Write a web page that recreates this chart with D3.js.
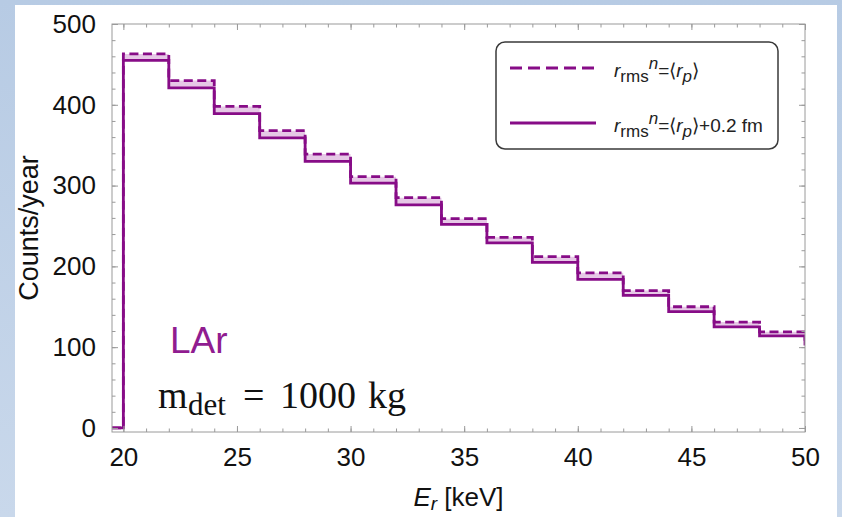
<!DOCTYPE html>
<html>
<head>
<meta charset="utf-8">
<script src="https://cdnjs.cloudflare.com/ajax/libs/d3/7.8.5/d3.min.js"></script>
<style>
  html, body { margin: 0; padding: 0; background: #ffffff; }
  svg { display: block; }
</style>
</head>
<body>
<svg id="chart" width="842" height="517"></svg>
<script>

    // Histogram bins (keV) and counts per year
    var binEdges = [20, 22, 24, 26, 28, 30, 32, 34, 36, 38, 40, 42, 44, 46, 48, 50];
    var countsRp = [463, 430, 398, 368, 339, 311, 285, 259, 236, 212, 192, 170, 150, 131, 119, 108];
    var countsRpPlus = [455, 421, 389, 359, 330, 303, 276, 252, 229, 205, 184, 164, 144, 125, 114, 102];

    var xMajorTicks = [20, 25, 30, 35, 40, 45, 50];
    var yMajorTicks = [0, 100, 200, 300, 400, 500];
    var xMinorTicks = d3.range(20, 51, 1);
    var yMinorTicks = d3.range(0, 501, 20);

    var lineColor = "#870c87";
    var fillColor = "#e6c8e6";
    var frameColor = "#9a9a9a";

    var svg = d3.select("#chart");

    // Blue slide background and white panel
    var defs = svg.append("defs");
    var grad = defs.append("linearGradient")
                   .attr("id", "bg_grad")
                   .attr("x1", "0").attr("y1", "0")
                   .attr("x2", "0").attr("y2", "1");
    grad.append("stop").attr("offset", "0").attr("stop-color", "#b7cbe4");
    grad.append("stop").attr("offset", "1").attr("stop-color", "#c9d8eb");

    svg.append("rect").attr("width", 842).attr("height", 517).attr("fill", "url(#bg_grad)");
    svg.append("rect").attr("x", 15).attr("y", 5).attr("width", 822).attr("height", 520).attr("fill", "#ffffff");

    var plot = { left: 112, right: 805, top: 24, bottom: 432 };

    var x = d3.scaleLinear().domain([19.5, 50]).range([plot.left, plot.right]);
    var y = d3.scaleLinear().domain([-5, 500]).range([plot.bottom, plot.top]);

    defs.append("clipPath").attr("id", "plot_clip")
        .append("rect")
        .attr("x", plot.left).attr("y", plot.top)
        .attr("width", plot.right - plot.left).attr("height", plot.bottom - plot.top);

    // Step points: flat at zero before the threshold, then one point per bin
    function stepPoints(counts){
        var pts = [[19.5, 0]];
        for ( var i = 0; i < counts.length; i++ )
            pts.push([binEdges[0] + i * 2, counts[i]]);
        return pts;
    }

    var band = [];
    for ( var i = 0; i < countsRp.length; i++ )
        band.push({ e: binEdges[0] + i * 2, hi: countsRp[i], lo: countsRpPlus[i] });

    var g = svg.append("g").attr("clip-path", "url(#plot_clip)");

    g.append("path")
     .datum(band)
     .attr("fill", fillColor)
     .attr("d", d3.area()
                  .curve(d3.curveStepAfter)
                  .x(function(d){ return x(d.e); })
                  .y0(function(d){ return y(d.lo); })
                  .y1(function(d){ return y(d.hi); }));

    var stepLine = d3.line()
                     .curve(d3.curveStepAfter)
                     .x(function(d){ return x(d[0]); })
                     .y(function(d){ return y(d[1]); });

    g.append("path")
     .datum(stepPoints(countsRp))
     .attr("fill", "none")
     .attr("stroke", lineColor)
     .attr("stroke-width", 2.8)
     .attr("stroke-dasharray", "9,4.5")
     .attr("d", stepLine);

    g.append("path")
     .datum(stepPoints(countsRpPlus))
     .attr("fill", "none")
     .attr("stroke", lineColor)
     .attr("stroke-width", 2.8)
     .attr("d", stepLine);

    // Frame with inward ticks on all four sides
    svg.append("rect")
       .attr("x", plot.left).attr("y", plot.top)
       .attr("width", plot.right - plot.left).attr("height", plot.bottom - plot.top)
       .attr("fill", "none").attr("stroke", frameColor).attr("stroke-width", 1);

    function addTicks(axis, transform){
        var a = svg.append("g").attr("transform", transform).call(axis);
        a.select(".domain").remove();
        a.selectAll(".tick line").attr("stroke", frameColor);
        return a;
    }

    addTicks(d3.axisBottom(x).tickValues(xMinorTicks).tickSize(-3.5).tickFormat(""), "translate(0," + plot.bottom + ")");
    addTicks(d3.axisTop(x).tickValues(xMinorTicks).tickSize(-3.5).tickFormat(""), "translate(0," + plot.top + ")");
    addTicks(d3.axisTop(x).tickValues(xMajorTicks).tickSize(-6).tickFormat(""), "translate(0," + plot.top + ")");
    addTicks(d3.axisLeft(y).tickValues(yMinorTicks).tickSize(-3.5).tickFormat(""), "translate(" + plot.left + ",0)");
    addTicks(d3.axisRight(y).tickValues(yMinorTicks).tickSize(-3.5).tickFormat(""), "translate(" + plot.right + ",0)");
    addTicks(d3.axisRight(y).tickValues(yMajorTicks).tickSize(-6).tickFormat(""), "translate(" + plot.right + ",0)");

    var xAxis = addTicks(d3.axisBottom(x).tickValues(xMajorTicks).tickSize(-6).tickPadding(16), "translate(0," + plot.bottom + ")");
    xAxis.selectAll("text")
         .attr("fill", "#111").attr("dy", "0.71em")
         .style("font-family", "'Liberation Sans', Arial, sans-serif").style("font-size", "26px");

    var yAxis = addTicks(d3.axisLeft(y).tickValues(yMajorTicks).tickSize(-6).tickPadding(16), "translate(" + plot.left + ",0)");
    yAxis.selectAll("text")
         .attr("fill", "#111")
         .style("font-family", "'Liberation Sans', Arial, sans-serif").style("font-size", "26px");

    // Axis titles
    svg.append("text")
       .attr("transform", "translate(38," + ((plot.top + plot.bottom) / 2) + ") rotate(-90)")
       .attr("text-anchor", "middle")
       .attr("fill", "#111")
       .style("font-family", "'Liberation Sans', Arial, sans-serif").style("font-size", "27px")
       .text("Counts/year");

    var xTitle = svg.append("text")
                    .attr("x", (plot.left + plot.right) / 2).attr("y", 506)
                    .attr("text-anchor", "middle")
                    .attr("fill", "#111")
                    .style("font-family", "'Liberation Sans', Arial, sans-serif").style("font-size", "26px");
    xTitle.append("tspan").style("font-style", "italic").text("E");
    xTitle.append("tspan").style("font-style", "italic").style("font-size", "19px").attr("dy", 4).text("r");
    xTitle.append("tspan").attr("dy", -4).text(" [keV]");

    // Annotations
    svg.append("text")
       .attr("x", 170).attr("y", 353)
       .attr("fill", "#901c90")
       .style("font-family", "'Liberation Sans', Arial, sans-serif").style("font-size", "37px")
       .text("LAr");

    var mdet = svg.append("text")
                  .attr("y", 408)
                  .attr("fill", "#111")
                  .style("font-family", "'Liberation Serif', 'Times New Roman', serif").style("font-size", "38px");
    mdet.append("tspan").attr("x", 158).text("m");
    mdet.append("tspan").attr("x", 188).attr("dy", 7).style("font-size", "31px").text("det");
    mdet.append("tspan").attr("x", 243).attr("dy", -7).text("=");
    mdet.append("tspan").attr("x", 280).text("1000");
    mdet.append("tspan").attr("x", 368).text("kg");

    // Legend
    var legend = svg.append("g");
    legend.append("rect")
          .attr("x", 496).attr("y", 42).attr("width", 282).attr("height", 107)
          .attr("rx", 9).attr("ry", 9)
          .attr("fill", "#ffffff").attr("stroke", "#3a3a3a").attr("stroke-width", 1.5);

    var legendItems = [
        { y: 68, dash: "12,6", tail: "" },
        { y: 123, dash: null, tail: "+0.2 fm" }
    ];

    legendItems.forEach(function(item){
        legend.append("line")
              .attr("x1", 510).attr("x2", 596).attr("y1", item.y).attr("y2", item.y)
              .attr("stroke", lineColor).attr("stroke-width", 2.8)
              .attr("stroke-dasharray", item.dash);

        var t = legend.append("text")
                      .attr("x", 614).attr("y", item.y + 9)
                      .attr("fill", "#222")
                      .style("font-family", "'Liberation Sans', Arial, sans-serif").style("font-size", "19px");
        t.append("tspan").style("font-style", "italic").text("r");
        t.append("tspan").attr("dy", 5).style("font-size", "17px").text("rms");
        t.append("tspan").attr("dy", -13).style("font-size", "17px").style("font-style", "italic").text("n");
        t.append("tspan").attr("dy", 8).text("=\u27E8");
        t.append("tspan").style("font-style", "italic").text("r");
        t.append("tspan").attr("dy", 5).style("font-size", "17px").style("font-style", "italic").text("p");
        t.append("tspan").attr("dy", -5).text("\u27E9" + item.tail);
    });

</script>
</body>
</html>
